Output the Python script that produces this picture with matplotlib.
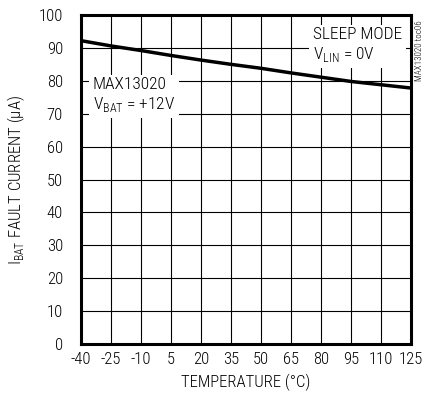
import matplotlib
matplotlib.use('Agg')
import matplotlib.pyplot as plt

plt.rcParams['font.family'] = ['Roboto Condensed', 'DejaVu Sans']
plt.rcParams['font.weight'] = 'light'
plt.rcParams['axes.labelweight'] = 'light'
plt.rcParams['axes.unicode_minus'] = False

# ---------------- DATA ----------------
temp = [-40, -25, -10, 5, 20, 35, 50, 65, 80, 95, 110, 125]
current = [92.2, 90.6, 89.2, 87.7, 86.3, 85.0, 83.8, 82.4, 81.1, 79.8, 78.8, 77.8]
xticks = [-40, -25, -10, 5, 20, 35, 50, 65, 80, 95, 110, 125]
yticks = [0, 10, 20, 30, 40, 50, 60, 70, 80, 90, 100]

# ---------------- PLOT ----------------
fig = plt.figure(figsize=(4.31, 4.05), dpi=100)
ax = fig.add_axes([81 / 431, 61 / 405, 330 / 431, 329 / 405])

ax.plot(temp, current, color='black', lw=2.5, zorder=3)

ax.set_xlim(-40, 125)
ax.set_ylim(0, 100)
ax.set_xticks(xticks)
ax.set_yticks(yticks)
ax.grid(True, color='black', lw=0.8)
ax.tick_params(length=0, labelsize=12)
ax.tick_params(axis='x', pad=6)
ax.tick_params(axis='y', pad=13)
for s in ax.spines.values():
    s.set_linewidth(2.2)

ax.set_xlabel('TEMPERATURE (°C)', fontsize=12, labelpad=5)
ax.set_ylabel('I$_{\\mathregular{BAT}}$ FAULT CURRENT (µA)', fontsize=12, labelpad=8)

box = dict(facecolor='white', edgecolor='none', pad=3)
ax.text(76, 96.3, 'SLEEP MODE\nV$_{\\mathregular{LIN}}$ = 0V', fontsize=12.5, ha='left', va='top',
        bbox=box, zorder=4, linespacing=1.2)
ax.text(-34, 81.2, 'MAX13020\nV$_{\\mathregular{BAT}}$ = +12V', fontsize=12.5, ha='left', va='top',
        bbox=box, zorder=4, linespacing=1.2)

fig.text(420 / 431, 1 - 51 / 405, 'MAX13020 toc06', fontsize=6.5, rotation=90,
         ha='center', va='center')

fig.savefig('out.png', dpi=100)
